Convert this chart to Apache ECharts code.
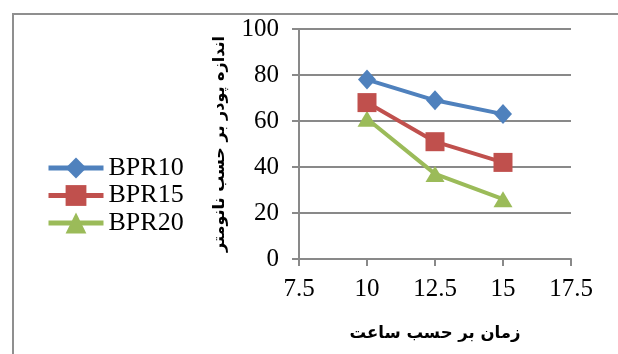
<!DOCTYPE html>
<html>
<head>
<meta charset="utf-8">
<style>
  html, body { margin: 0; padding: 0; background: #fff; }
  #chart { width: 618px; height: 354px; }
</style>
<script src="https://cdn.jsdelivr.net/npm/echarts@6/dist/echarts.min.js"></script>
</head>
<body>
<div id="chart"></div>
<script>
// Powder size (nm) against time (h) for three ball-to-powder ratios
const hours = [10, 12.5, 15];
const bpr10 = [78, 69, 63];
const bpr15 = [68, 51, 42];
const bpr20 = [61, 37, 26];
const seriesNames = ['BPR10', 'BPR15', 'BPR20'];
const xTitle = 'زمان بر حسب ساعت';
const yTitle = 'اندازه پودر بر حسب نانومتر';

const colors = ['#4F81BD', '#C0504D', '#9BBB59'];
const symbols = ['diamond', 'rect', 'triangle'];
const symbolSizes = [[18, 20], [19, 19], [19, 16]];
const allValues = [bpr10, bpr15, bpr20];

const chart = echarts.init(document.getElementById('chart'), null, { renderer: 'canvas' });

const serif = '"Liberation Serif", "Times New Roman", serif';
const gridColor = '#898989';

chart.setOption({
  animation: false,
  backgroundColor: '#ffffff',
  color: colors,
  graphic: [{
    type: 'rect',
    shape: { x: 13, y: 14, width: 700, height: 400 },
    style: { fill: 'none', stroke: '#8f8f8f', lineWidth: 2 },
    silent: true,
    z: -10
  }],
  grid: { left: 299, right: 47, top: 29, bottom: 95, containLabel: false },
  legend: {
    orient: 'vertical',
    left: 41,
    top: 150,
    padding: 5,
    itemWidth: 55,
    itemHeight: 26,
    itemGap: 1.5,
    lineStyle: { width: 5 },
    textStyle: { fontFamily: serif, fontSize: 26, color: '#000' },
    data: seriesNames
  },
  xAxis: {
    type: 'value',
    min: 7.5,
    max: 17.5,
    interval: 2.5,
    name: xTitle,
    nameLocation: 'middle',
    nameGap: 66,
    nameTextStyle: { fontFamily: '"DejaVu Sans", sans-serif', fontWeight: 'bold', fontSize: 16.5, color: '#000' },
    axisLine: { show: true, lineStyle: { color: gridColor, width: 2 } },
    axisTick: { show: true, length: 7, lineStyle: { color: gridColor, width: 2 } },
    axisLabel: { fontFamily: serif, fontSize: 25, color: '#000', margin: 18 },
    splitLine: { show: false }
  },
  yAxis: {
    type: 'value',
    min: 0,
    max: 100,
    interval: 20,
    name: yTitle,
    nameLocation: 'middle',
    nameRotate: 90,
    nameGap: 71,
    nameTextStyle: { fontFamily: '"DejaVu Sans", sans-serif', fontWeight: 'bold', fontSize: 16, color: '#000' },
    axisLine: { show: true, onZero: false, lineStyle: { color: gridColor, width: 2 } },
    axisTick: { show: true, length: 7, lineStyle: { color: gridColor, width: 2 } },
    axisLabel: { fontFamily: serif, fontSize: 25, color: '#000', margin: 20 },
    splitLine: { show: true, lineStyle: { color: gridColor, width: 2 } }
  },
  series: seriesNames.map((name, i) => ({
    name: name,
    type: 'line',
    data: hours.map((h, j) => [h, allValues[i][j]]),
    symbol: symbols[i],
    symbolSize: symbolSizes[i],
    lineStyle: { width: 4, color: colors[i] },
    itemStyle: { color: colors[i] },
    z: 3 - i
  }))
});
</script>
</body>
</html>
